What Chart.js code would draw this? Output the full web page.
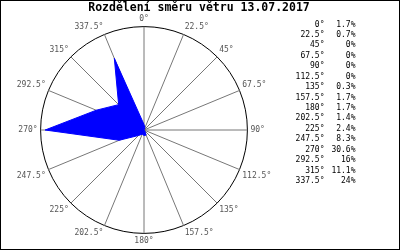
<!DOCTYPE html>
<html>
<head>
<meta charset="utf-8">
<script src="https://cdn.jsdelivr.net/npm/chart.js@4/dist/chart.umd.min.js"></script>
<style>
  html, body { margin: 0; padding: 0; background: #fff; }
  #wrap { position: relative; width: 400px; height: 250px; }
</style>
</head>
<body>
<div id="wrap"><canvas id="chart" width="400" height="250"></canvas></div>
<script>
const titleText = "Rozdělení směru větru 13.07.2017";
const directions = ["0°", "22.5°", "45°", "67.5°", "90°", "112.5°", "135°", "157.5°",
                    "180°", "202.5°", "225°", "247.5°", "270°", "292.5°", "315°", "337.5°"];
const percents = [1.7, 0.7, 0, 0, 0, 0, 0.3, 1.7, 1.7, 1.4, 2.4, 8.3, 30.6, 16, 11.1, 24];
const scaleMax = 32;

const mono = "'DejaVu Sans Mono', 'Liberation Mono', monospace";

// titulek, seznam vpravo a ramecek
const extras = {
    id: "extras",
    afterDraw(chart) {
        const ctx = chart.ctx;
        ctx.save();
        ctx.fillStyle = "#000";
        ctx.font = "bold 11.5px " + mono;
        ctx.textAlign = "center";
        ctx.textBaseline = "middle";
        ctx.fillText(titleText, 199, 8.5);

        ctx.font = "8px " + mono;
        directions.forEach((d, i) => {
            const y = 24.5 + i * 10.43;
            ctx.textAlign = "right";
            ctx.fillText(d, 324.5, y);
            ctx.fillText(percents[i] + "%", 355.5, y);
        });

        ctx.strokeStyle = "#000";
        ctx.lineWidth = 1;
        ctx.strokeRect(0.5, 0.5, 399, 249);
        ctx.restore();
    }
};

new Chart(document.getElementById("chart"), {
    type: "radar",
    data: {
        labels: directions,
        datasets: [{
            data: percents,
            backgroundColor: "#0000ff",
            borderColor: "#0000ff",
            borderWidth: 1,
            fill: true,
            pointRadius: 0,
            tension: 0
        }]
    },
    options: {
        responsive: false,
        animation: false,
        layout: { padding: { left: 0, right: 111, top: 15, bottom: 3 } },
        plugins: { legend: { display: false }, title: { display: false }, tooltip: { enabled: false } },
        scales: {
            r: {
                min: 0,
                max: scaleMax,
                ticks: { display: false, stepSize: scaleMax },
                grid: { circular: true, color: "#000", lineWidth: 1 },
                angleLines: { color: "#777", lineWidth: 1 },
                pointLabels: { color: "#555", padding: 3, font: { family: mono, size: 8 } }
            }
        }
    },
    plugins: [extras]
});
</script>
</body>
</html>
